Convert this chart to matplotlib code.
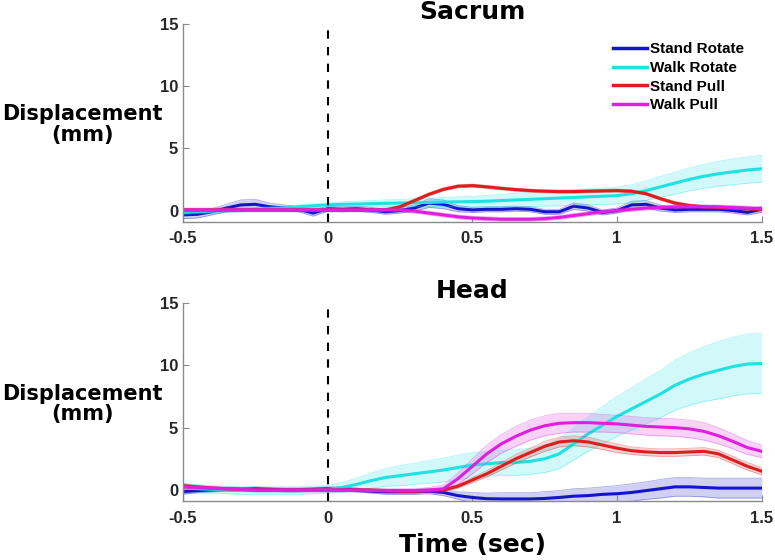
import numpy as np
import matplotlib
matplotlib.use("Agg")
import matplotlib.pyplot as plt

# time grid (sec)
t = [-0.5, -0.45, -0.4, -0.35, -0.3, -0.25, -0.2, -0.15, -0.1, -0.05,
     0.0, 0.05, 0.1, 0.15, 0.2, 0.25, 0.3, 0.35, 0.4, 0.45,
     0.5, 0.55, 0.6, 0.65, 0.7, 0.75, 0.8, 0.85, 0.9, 0.95,
     1.0, 1.05, 1.1, 1.15, 1.2, 1.25, 1.3, 1.35, 1.4, 1.45, 1.5]

series_names = ['Stand Rotate', 'Walk Rotate', 'Stand Pull', 'Walk Pull']
series_colors = ['#1414c8', '#1ee1e1', '#dc1e1e', '#e01ee0']

# ---- Sacrum (mm)
sac_stand_rot = [-0.35, -0.3, -0.1, 0.2, 0.45, 0.5, 0.3, 0.2, 0.1, -0.2,
                 0.15, 0.1, 0.15, 0.05, -0.1, 0.0, 0.2, 0.6, 0.5, 0.15,
                 0.05, 0.1, 0.1, 0.15, 0.1, -0.1, -0.1, 0.35, 0.2, -0.15,
                 0.0, 0.45, 0.5, 0.2, 0.05, 0.1, 0.1, 0.1, 0.0, -0.15, 0.1]
sac_stand_rot_sd = [0.3, 0.3, 0.25, 0.3, 0.4, 0.4, 0.3, 0.25, 0.2, 0.25,
                    0.2, 0.2, 0.2, 0.2, 0.2, 0.2, 0.25, 0.35, 0.35, 0.25,
                    0.2, 0.2, 0.2, 0.2, 0.2, 0.2, 0.2, 0.25, 0.25, 0.2,
                    0.2, 0.3, 0.3, 0.25, 0.2, 0.2, 0.2, 0.2, 0.2, 0.2, 0.25]
sac_walk_rot = [-0.15, -0.1, -0.05, 0.0, 0.05, 0.1, 0.15, 0.2, 0.3, 0.38,
                0.45, 0.5, 0.52, 0.55, 0.58, 0.6, 0.62, 0.65, 0.68, 0.7,
                0.72, 0.75, 0.8, 0.85, 0.9, 0.95, 1.0, 1.05, 1.1, 1.15,
                1.2, 1.35, 1.6, 1.9, 2.2, 2.5, 2.75, 2.95, 3.1, 3.25, 3.35]
sac_walk_rot_sd = [0.15, 0.15, 0.15, 0.15, 0.15, 0.15, 0.15, 0.15, 0.15, 0.15,
                   0.15, 0.2, 0.22, 0.25, 0.28, 0.3, 0.32, 0.35, 0.37, 0.4,
                   0.42, 0.45, 0.5, 0.55, 0.58, 0.6, 0.62, 0.63, 0.64, 0.65,
                   0.68, 0.72, 0.78, 0.84, 0.88, 0.92, 0.96, 1.0, 1.03, 1.06, 1.08]
sac_stand_pull = [0.05, 0.05, 0.05, 0.05, 0.05, 0.05, 0.05, 0.05, 0.05, 0.05,
                  0.05, 0.05, 0.05, 0.05, 0.05, 0.3, 0.8, 1.3, 1.7, 1.95,
                  2.0, 1.9, 1.78, 1.68, 1.6, 1.55, 1.52, 1.52, 1.55, 1.58,
                  1.6, 1.55, 1.35, 0.95, 0.6, 0.4, 0.3, 0.25, 0.2, 0.15, 0.1]
sac_stand_pull_sd = [0.12] * 41
sac_walk_pull = [0.05, 0.05, 0.05, 0.05, 0.05, 0.05, 0.05, 0.05, 0.05, 0.05,
                 0.05, 0.05, 0.05, 0.05, 0.05, 0.05, -0.05, -0.2, -0.35, -0.5,
                 -0.6, -0.65, -0.7, -0.7, -0.7, -0.65, -0.55, -0.4, -0.25, -0.1,
                 0.0, 0.1, 0.2, 0.25, 0.3, 0.3, 0.3, 0.3, 0.25, 0.2, 0.15]
sac_walk_pull_sd = [0.15] * 41

# ---- Head (mm)
head_stand_rot = [-0.15, -0.05, 0.0, 0.05, 0.05, 0.1, 0.05, 0.0, 0.0, 0.05,
                  0.1, 0.1, 0.0, -0.1, -0.15, -0.15, -0.15, -0.1, -0.2, -0.45,
                  -0.6, -0.7, -0.72, -0.72, -0.72, -0.68, -0.6, -0.5, -0.45, -0.35,
                  -0.3, -0.2, -0.05, 0.1, 0.25, 0.25, 0.2, 0.15, 0.15, 0.15, 0.15]
head_stand_rot_sd = [0.2, 0.15, 0.15, 0.15, 0.15, 0.15, 0.15, 0.15, 0.15, 0.15,
                     0.15, 0.15, 0.15, 0.15, 0.2, 0.2, 0.2, 0.2, 0.25, 0.3,
                     0.4, 0.45, 0.5, 0.5, 0.5, 0.55, 0.55, 0.6, 0.6, 0.6,
                     0.65, 0.7, 0.7, 0.75, 0.75, 0.75, 0.75, 0.8, 0.8, 0.8, 0.8]
head_walk_rot = [0.15, 0.1, 0.05, 0.0, -0.05, -0.05, -0.05, -0.05, -0.05, 0.0,
                 0.05, 0.2, 0.45, 0.75, 1.0, 1.15, 1.3, 1.45, 1.6, 1.8,
                 2.0, 2.1, 2.2, 2.2, 2.3, 2.5, 2.9, 3.7, 4.5, 5.2,
                 5.9, 6.5, 7.1, 7.7, 8.4, 8.9, 9.3, 9.6, 9.9, 10.1, 10.15]
head_walk_rot_sd = [0.4, 0.35, 0.3, 0.3, 0.3, 0.3, 0.3, 0.3, 0.3, 0.3,
                    0.3, 0.4, 0.5, 0.6, 0.7, 0.8, 0.85, 0.9, 0.95, 1.0,
                    1.0, 1.0, 1.0, 1.05, 1.05, 1.1, 1.2, 1.3, 1.4, 1.5,
                    1.6, 1.7, 1.8, 1.9, 2.0, 2.1, 2.2, 2.3, 2.35, 2.4, 2.4]
head_stand_pull = [0.35, 0.25, 0.15, 0.1, 0.05, 0.0, 0.0, 0.0, 0.0, 0.0,
                   0.0, 0.0, 0.0, 0.0, -0.05, -0.1, -0.1, -0.05, 0.0, 0.3,
                   0.8, 1.3, 1.9, 2.5, 3.0, 3.5, 3.85, 3.95, 3.85, 3.6,
                   3.35, 3.15, 3.05, 3.0, 3.0, 3.05, 3.1, 2.9, 2.4, 1.9, 1.5]
head_stand_pull_sd = [0.15, 0.12, 0.1, 0.1, 0.1, 0.1, 0.1, 0.1, 0.1, 0.1,
                      0.1, 0.1, 0.1, 0.1, 0.1, 0.1, 0.1, 0.1, 0.12, 0.15,
                      0.2, 0.25, 0.3, 0.35, 0.35, 0.4, 0.4, 0.4, 0.4, 0.35,
                      0.35, 0.3, 0.3, 0.3, 0.3, 0.3, 0.3, 0.3, 0.3, 0.3, 0.3]
head_walk_pull = [0.25, 0.2, 0.15, 0.1, 0.05, 0.0, 0.0, 0.0, 0.0, 0.0,
                  0.0, 0.0, 0.0, -0.05, -0.05, -0.05, -0.05, 0.0, 0.1, 0.9,
                  1.9, 2.9, 3.7, 4.3, 4.8, 5.15, 5.35, 5.4, 5.4, 5.35,
                  5.3, 5.2, 5.1, 5.05, 5.0, 4.9, 4.7, 4.35, 3.9, 3.4, 3.1]
head_walk_pull_sd = [0.15, 0.15, 0.15, 0.15, 0.15, 0.15, 0.15, 0.15, 0.15, 0.15,
                     0.15, 0.15, 0.15, 0.15, 0.15, 0.15, 0.15, 0.2, 0.3, 0.45,
                     0.6, 0.7, 0.75, 0.8, 0.8, 0.8, 0.8, 0.75, 0.75, 0.7,
                     0.7, 0.7, 0.7, 0.7, 0.7, 0.7, 0.7, 0.65, 0.6, 0.55, 0.5]

xticks = [-0.5, 0, 0.5, 1, 1.5]
xtick_labels = ['-0.5', '0', '0.5', '1', '1.5']
yticks = [0, 5, 10, 15]

panels = [
    ('Sacrum', [sac_stand_rot, sac_walk_rot, sac_stand_pull, sac_walk_pull],
     [sac_stand_rot_sd, sac_walk_rot_sd, sac_stand_pull_sd, sac_walk_pull_sd]),
    ('Head', [head_stand_rot, head_walk_rot, head_stand_pull, head_walk_pull],
     [head_stand_rot_sd, head_walk_rot_sd, head_stand_pull_sd, head_walk_pull_sd]),
]

fig = plt.figure(figsize=(7.75, 5.6), dpi=100)
ax_top = fig.add_axes([0.236, 0.604, 0.747, 0.354])
ax_bot = fig.add_axes([0.236, 0.105, 0.747, 0.354])

tx = np.array(t)
for ax, (title, means, sds) in zip([ax_top, ax_bot], panels):
    for name, col, m, s in zip(series_names, series_colors, means, sds):
        m = np.array(m)
        s = np.array(s)
        ax.fill_between(tx, m - s, m + s, color=col, alpha=0.2, lw=0)
        ax.plot(tx, m - s, color=col, lw=0.6, alpha=0.35)
        ax.plot(tx, m + s, color=col, lw=0.6, alpha=0.35)
        ax.plot(tx, m, color=col, lw=2.2, label=name)
    ax.axvline(0, color='black', ls=(0, (4, 4)), lw=1.5)
    ax.set_xlim(-0.5, 1.5)
    ax.set_ylim(-0.9, 15)
    ax.set_xticks(xticks)
    ax.set_xticklabels(xtick_labels)
    ax.set_yticks(yticks)
    for sp in ['top', 'right']:
        ax.spines[sp].set_visible(False)
    for sp in ['left', 'bottom']:
        ax.spines[sp].set_color('#8a8a8a')
        ax.spines[sp].set_linewidth(1.0)
    ax.tick_params(direction='in', length=4, color='#8a8a8a', labelcolor='#262626',
                   labelsize=12)
    ax.tick_params(axis='x', pad=7)
    for lab in ax.get_xticklabels() + ax.get_yticklabels():
        lab.set_fontfamily('Liberation Sans')
        lab.set_fontweight('bold')
    ax.set_title(title, fontsize=18, fontweight='bold', pad=3)
    ax.set_ylabel('Displacement\n(mm)', rotation=0, fontsize=15, fontweight='bold',
                  linespacing=1.05, ha='center', va='center')
    ax.yaxis.set_label_coords(-0.174, 0.49)

ax_bot.set_xlabel('Time (sec)', fontsize=18, fontweight='bold', labelpad=5)

leg = ax_top.legend(loc='upper left', bbox_to_anchor=(0.743, 0.905), frameon=False,
                    borderaxespad=0, borderpad=0,
                    handlelength=2.2, handletextpad=0.2, labelspacing=0.3,
                    prop={'family': 'Liberation Sans', 'weight': 'bold', 'size': 11})
for line in leg.get_lines():
    line.set_linewidth(2.5)

fig.savefig('out.png', dpi=100)
